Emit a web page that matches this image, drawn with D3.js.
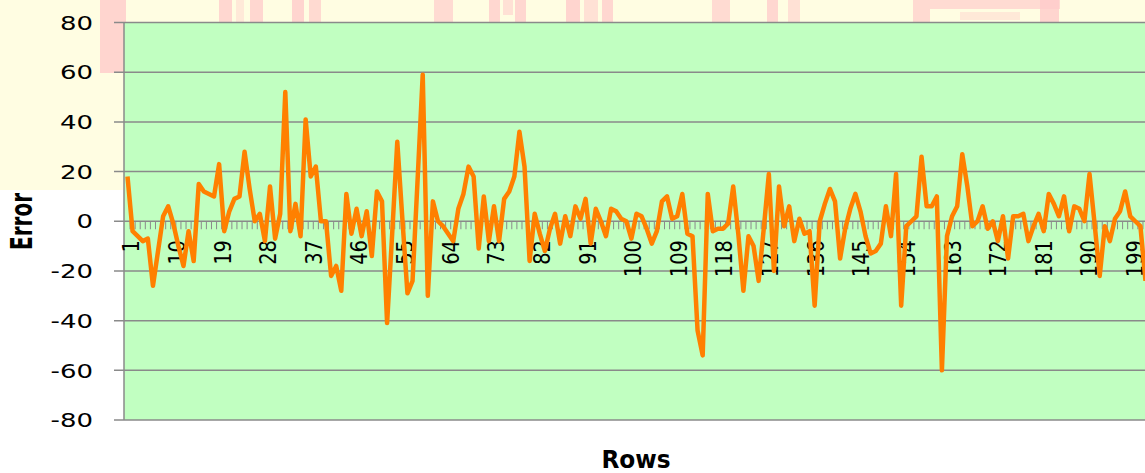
<!DOCTYPE html>
<html>
<head>
<meta charset="utf-8">
<script src="https://cdn.jsdelivr.net/npm/d3@7"></script>
<style>
html,body{margin:0;padding:0;background:#fff;overflow:hidden}
svg{display:block}
</style>
</head>
<body>
<svg id="c" width="1145" height="473"></svg>
<script>
// ---- data ----
const errors = [
  18, -4, -6, -8, -7, -26, -12, 2, 6, -1,
  -10, -18, -4, -16, 15, 12, 11, 10, 23, -4,
  4, 9, 10, 28, 13, 0, 3, -8, 14, -7,
  3, 52, -4, 7, -6, 41, 18, 22, 0, 0,
  -22, -18, -28, 11, -5, 5, -6, 4, -14, 12,
  8, -41, -5, 32, 1, -29, -24, 17, 59, -30,
  8, 0, -2, -5, -8, 5, 11, 22, 18, -11,
  10, -8, 6, -8, 9, 12, 18, 36, 22, -16,
  3, -5, -12, -3, 3, -9, 2, -6, 6, 1,
  9, -9, 5, 0, -6, 5, 4, 1, 0, -7,
  3, 2, -3, -9, -4, 8, 10, 1, 2, 11,
  -5, -6, -44, -54, 11, -4, -3, -3, -1, 14,
  -5, -28, -6, -10, -24, -3, 19, -20, 14, -2,
  6, -8, 1, -5, -4, -34, 0, 7, 13, 8,
  -15, -3, 5, 11, 4, -6, -13, -12, -9, 6,
  -6, 19, -34, -2, 0, 2, 26, 6, 6, 10,
  -60, -6, 2, 6, 27, 14, -2, 0, 6, -3,
  0, -8, 2, -15, 2, 2, 3, -8, -2, 3,
  -4, 11, 7, 2, 10, -4, 6, 5, 0, 19,
  -1, -22, -2, -8, 1, 4, 12, 2, 0, -2,
  -24
];
const rows = errors.map((_, i) => i + 1);
const xTickLabels = [1, 10, 19, 28, 37, 46, 55, 64, 73, 82, 91, 100, 109, 118, 127, 136, 145, 154, 163, 172, 181, 190, 199];
const yTicks = [-80, -60, -40, -20, 0, 20, 40, 60, 80];
const yTitle = "Error";
const xTitle = "Rows";

// ---- layout ----
const W = 1145, H = 473;
const plotL = 124, plotT = 22.5, plotB = 420;
const step = 5.09;
const x = d3.scaleLinear().domain([1, rows.length]).range([127.5, 127.5 + (rows.length - 1) * step]);
const y = d3.scaleLinear().domain([-80, 80]).range([plotB, plotT]);
// label centres drift slightly relative to the points in the original picture
const labelX = d3.scaleLinear().domain([1, 199]).range([x(1) + 3.5, x(199) - 0.5]);
const svg = d3.select('#c');
const FONT = '"DejaVu Sans", Verdana, sans-serif';

// ---- faded background picture (decoration) ----
const bg = svg.append('g');
bg.append('rect').attr('x', 0).attr('y', 0).attr('width', W).attr('height', plotT + 1).attr('fill', '#fffde2');
bg.append('rect').attr('x', 0).attr('y', 0).attr('width', plotL).attr('height', 190).attr('fill', '#fffde2');
const pink = [
  [100, 0, 26, 73, 0.8], [219, 0, 13, 23, 0.75], [236, 0, 8, 23, 0.4], [250, 0, 13, 23, 0.75],
  [292, 0, 12, 23, 0.8], [309, 0, 12, 23, 0.7], [434, 0, 19, 23, 0.65], [489, 0, 11, 23, 0.75],
  [503, 0, 10, 15, 0.55], [515, 0, 11, 23, 0.75], [566, 0, 14, 23, 0.8], [584, 0, 14, 23, 0.55],
  [602, 0, 11, 23, 0.75], [712, 0, 18, 23, 0.65], [767, 0, 11, 23, 0.75], [788, 0, 12, 23, 0.55],
  [913, 0, 17, 23, 0.7], [930, 0, 130, 9, 0.65], [1040, 0, 19, 23, 0.8], [960, 12, 60, 8, 0.4]
];
bg.selectAll('rect.pk').data(pink).enter().append('rect').attr('class', 'pk')
  .attr('x', d => d[0]).attr('y', d => d[1]).attr('width', d => d[2]).attr('height', d => d[3])
  .attr('fill', '#ffcaca').attr('opacity', d => d[4]);

// ---- plot area ----
svg.append('rect').attr('x', plotL).attr('y', plotT).attr('width', W - plotL + 10).attr('height', plotB - plotT)
  .attr('fill', '#c1ffc1');

// gridlines + y ticks
svg.append('g').selectAll('line').data(yTicks).enter().append('line')
  .attr('x1', plotL - 10).attr('x2', W + 5)
  .attr('y1', d => y(d)).attr('y2', d => y(d))
  .attr('stroke', '#8a8a8a').attr('stroke-width', 1.5);

// left axis line
svg.append('line').attr('x1', plotL).attr('x2', plotL).attr('y1', plotT).attr('y2', plotB)
  .attr('stroke', '#8a8a8a').attr('stroke-width', 1.5);

// category tick marks on the zero line
svg.append('g').selectAll('line').data(rows).enter().append('line')
  .attr('x1', d => x(d + 0.5)).attr('x2', d => x(d + 0.5))
  .attr('y1', y(0)).attr('y2', y(0) + 8)
  .attr('stroke', '#8a8a8a').attr('stroke-width', 1);

// x category labels (rotated)
svg.append('g').selectAll('text').data(xTickLabels).enter().append('text')
  .attr('transform', d => `translate(${labelX(d)},240) scale(1.18,1) rotate(-90)`)
  .attr('text-anchor', 'end').attr('dy', '0.36em')
  .attr('font-family', FONT).attr('font-size', 19.5).attr('fill', '#000')
  .text(d => d);

// the series line
const line = d3.line().x((d, i) => x(rows[i])).y(d => y(d));
svg.append('path').datum(errors).attr('d', line)
  .attr('fill', 'none').attr('stroke', '#ff8000').attr('stroke-width', 4.5)
  .attr('stroke-linejoin', 'round');

// y tick labels
svg.append('g').selectAll('text').data(yTicks).enter().append('text')
  .attr('transform', d => `translate(93,${y(d)}) scale(1.3,1)`)
  .attr('text-anchor', 'end').attr('dy', '0.36em')
  .attr('font-family', FONT).attr('font-size', 20).attr('fill', '#000')
  .text(d => d);

// axis titles
svg.append('text')
  .attr('transform', `translate(21,221.5) scale(1.49,1) rotate(-90)`)
  .attr('text-anchor', 'middle').attr('dy', '0.36em')
  .attr('font-family', FONT).attr('font-weight', 'bold').attr('font-size', 20).attr('fill', '#000')
  .text(yTitle);
svg.append('text')
  .attr('transform', `translate(636,468) scale(0.93,1)`)
  .attr('text-anchor', 'middle')
  .attr('font-family', FONT).attr('font-weight', 'bold').attr('font-size', 25).attr('fill', '#000')
  .text(xTitle);
</script>
</body>
</html>
